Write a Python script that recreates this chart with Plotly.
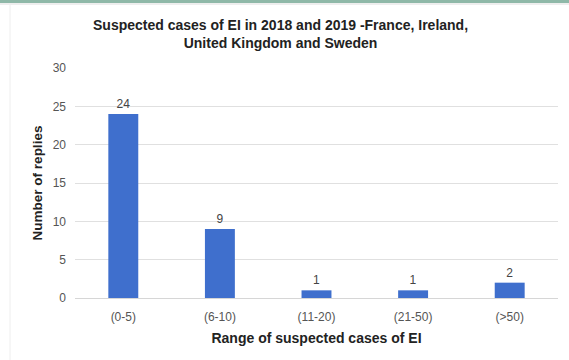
import plotly.graph_objects as go

categories = ["(0-5)", "(6-10)", "(11-20)", "(21-50)", "(>50)"]
replies = [24, 9, 1, 1, 2]
y_ticks = [0, 5, 10, 15, 20, 25, 30]

W, H = 569, 360
L, R, T, B = 75, 11, 68, 62
pw, ph = W - L - R, H - T - B

def px(x):
    return (x - L) / pw

def py(y):
    return (H - B - y) / ph

FONT = "Liberation Sans, Arial, sans-serif"

fig = go.Figure(go.Bar(
    x=categories, y=replies,
    marker=dict(color="#3f6fcd", line=dict(width=0)),
    text=[str(v) for v in replies], textposition="outside",
    textfont=dict(family=FONT, size=12, color="#444444"),
    cliponaxis=False,
))

fig.update_layout(
    width=W, height=H,
    margin=dict(l=L, r=R, t=T, b=B),
    paper_bgcolor="white", plot_bgcolor="white",
    bargap=0.69,
    showlegend=False,
    font=dict(family=FONT),
    xaxis=dict(
        title=dict(text="<b>Range of suspected cases of EI</b>", standoff=9,
                   font=dict(size=14, color="#222222")),
        tickfont=dict(size=12, color="#555555"),
        ticklabelstandoff=8,
        showline=True, linecolor="#d6d6d6", linewidth=1,
        ticks="", showgrid=False,
    ),
    yaxis=dict(
        title=dict(text="<b>Number of replies</b>", standoff=6,
                   font=dict(size=13.5, color="#222222")),
        range=[0, 30], tickvals=y_ticks,
        tickfont=dict(size=12, color="#555555"),
        ticklabelstandoff=8,
        gridcolor="#e0e0e0", gridwidth=1,
        zeroline=False, ticks="", showline=False,
    ),
    annotations=[
        dict(text="<b>Suspected cases of EI in 2018 and 2019 -France, Ireland,<br>United Kingdom and Sweden</b>",
             xref="paper", yref="paper", x=px(280), y=py(33.5),
             xanchor="center", yanchor="middle", showarrow=False,
             font=dict(family=FONT, size=14, color="#222222")),
    ],
    shapes=[
        dict(type="line", xref="paper", yref="paper",
             x0=px(0), x1=px(W), y0=py(1.5), y1=py(1.5),
             line=dict(color="#8fb8a8", width=3)),
        dict(type="line", xref="paper", yref="paper",
             x0=px(0), x1=px(W), y0=py(4), y1=py(4),
             line=dict(color="#eeeeee", width=2)),
        dict(type="line", xref="paper", yref="paper",
             x0=px(10), x1=px(10), y0=py(5), y1=py(H),
             line=dict(color="#eeeeee", width=1)),
    ],
)

fig.write_html("out.html")
